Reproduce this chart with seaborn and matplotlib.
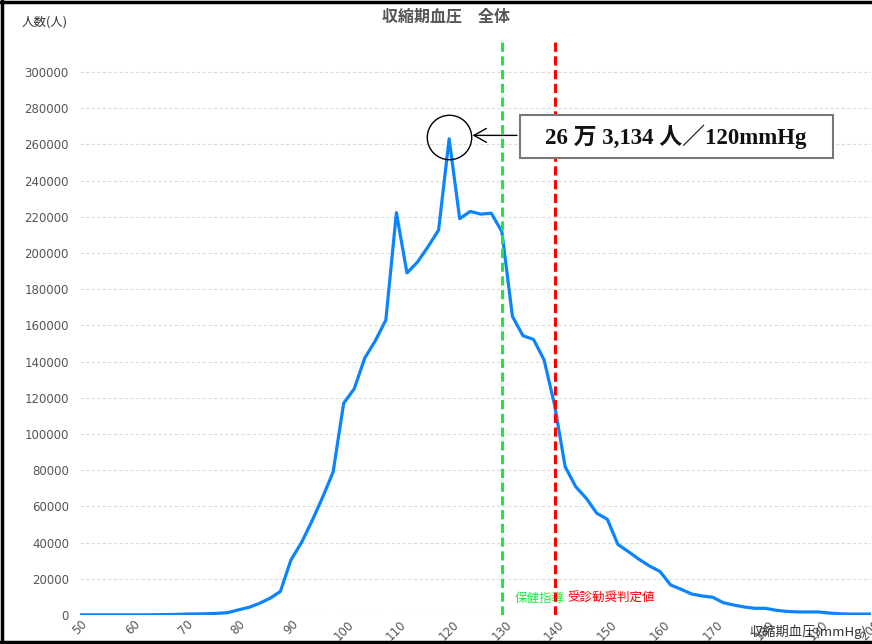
import matplotlib
matplotlib.use("Agg")
import matplotlib.pyplot as plt
import seaborn as sns
import pandas as pd
from matplotlib.lines import Line2D
from matplotlib.patches import Rectangle

sns.set_style("white")
plt.rcParams['font.family'] = ['Noto Sans CJK JP', 'DejaVu Sans']

bp_mmhg = [50, 52, 54, 56, 58, 60, 62, 64, 66, 68, 70, 72, 74, 76, 78, 80, 82, 84, 86, 88,
           90, 92, 94, 96, 98, 100, 102, 104, 106, 108, 110, 112, 114, 116, 118, 120, 122, 124, 126, 128,
           130, 132, 134, 136, 138, 140, 142, 144, 146, 148, 150, 152, 154, 156, 158, 160, 162, 164, 166, 168,
           170, 172, 174, 176, 178, 180, 182, 184, 186, 188, 190, 192, 194, 196, 198, 200]
people = [100, 100, 100, 100, 100, 100, 100, 150, 200, 300, 500, 600, 700, 900, 1300, 2800, 4200, 6400, 9200, 13000,
          30400, 40000, 52000, 65000, 79000, 117000, 125000, 142000, 151500, 163000, 222300, 189000, 195000, 203500, 212700, 263134, 219000, 223000, 221500, 222000,
          211800, 165000, 154300, 152300, 141000, 116000, 82000, 70900, 64500, 56200, 52900, 39000, 35000, 30800, 27100, 24000, 16600, 14200, 11600, 10500,
          9800, 6800, 5500, 4400, 3700, 3700, 2600, 2000, 1700, 1700, 1700, 1100, 700, 500, 500, 500]
x_ticks = [50, 60, 70, 80, 90, 100, 110, 120, 130, 140, 150, 160, 170, 180, 190, 200]
y_ticks = [0, 20000, 40000, 60000, 80000, 100000, 120000, 140000, 160000, 180000, 200000,
           220000, 240000, 260000, 280000, 300000]
guide_value = 130
referral_value = 140
peak_x = 120
peak_y = 263134
peak_label = "26 万 3,134 人／120mmHg"

df = pd.DataFrame({"bp": bp_mmhg, "n": people})

fig = plt.figure(figsize=(8.72, 6.44), dpi=100)
ax = fig.add_axes([80/872, (644-615)/644, (871-80)/872, (615-42)/644])

sns.lineplot(data=df, x="bp", y="n", ax=ax, color="#0a84ff", linewidth=2.3, zorder=3)

ax.set_xlim(50, 200)
ax.set_ylim(0, 316600)
ax.set_xticks(x_ticks)
ax.set_xticklabels([str(v) for v in x_ticks], rotation=45, ha="center", va="top",
                   fontsize=8.5, color="#555555", family=["DejaVu Sans"])
ax.set_yticks(y_ticks)
ax.set_yticklabels([str(v) for v in y_ticks], fontsize=8.5, color="#555555", family=["DejaVu Sans"])
ax.tick_params(axis="both", length=0)
ax.tick_params(axis="y", pad=8)
ax.tick_params(axis="x", pad=2)
for s in ax.spines.values():
    s.set_visible(False)
for v in y_ticks:
    ax.axhline(v, color="#dddddd", linestyle=(0, (3, 2)), linewidth=0.8, zorder=0)
ax.set_xlabel("")
ax.set_ylabel("")

ax.axvline(guide_value, color="#1fe83a", linestyle=(0, (3, 1.5)), linewidth=2.2, zorder=4)
ax.axvline(referral_value, color="#ff0000", linestyle=(0, (3, 1.5)), linewidth=2.2, zorder=4)
ax.text(132.5, 9400, "保健指導", color="#1fe83a", fontsize=9, ha="left", va="center")
ax.text(142.5, 9400, "受診勧奨判定値", color="#ff0000", fontsize=9, ha="left", va="center")

# annotation circle + arrow + box
ax.plot([peak_x], [264000], marker="o", markersize=32, markerfacecolor="none",
        markeredgecolor="black", markeredgewidth=1.0, zorder=5)
ax.annotate("", xy=(123.9, 265000), xytext=(133.4, 265000),
            arrowprops=dict(arrowstyle="->,head_length=0.9,head_width=0.5", color="black", lw=1.0),
            zorder=5)
ax.add_patch(Rectangle((133.4, 252500), 192.75 - 133.4, 276250 - 252500, facecolor="white",
                       edgecolor="#777777", linewidth=1.5, zorder=6))
ax.text(162.9, 264400, peak_label, ha="center", va="center", fontsize=16.5, fontweight="bold",
        family=["Liberation Serif", "Noto Sans CJK JP"], color="#111111", zorder=7)

fig.text(0.511, 1-17/644, "収縮期血圧　全体", ha="center", va="center", fontsize=11.5,
         fontweight="bold", color="#555555")
fig.text(22/872, 1-22/644, "人数(人)", ha="left", va="center", fontsize=9, color="#333333")
fig.text(0.994, 1-632/644, "収縮期血圧(mmHg)", ha="right", va="center", fontsize=9.5, color="#333333")

# outer frame
for xs, ys in [((0.002, 0.002), (0, 1)), ((0, 1), (0.997, 0.997)), ((0, 1), (0.003, 0.003))]:
    fig.add_artist(Line2D(xs, ys, color="black", linewidth=2.5, transform=fig.transFigure))

fig.savefig("out.png", dpi=100)
